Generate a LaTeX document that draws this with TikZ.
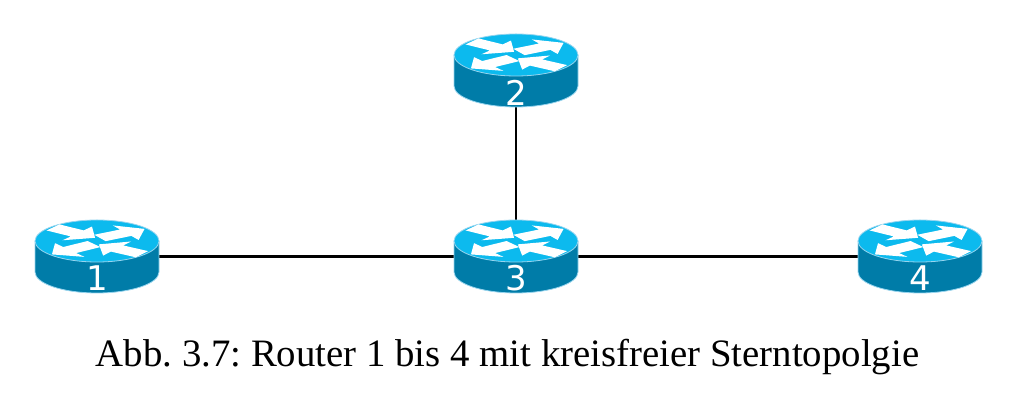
\documentclass[tikz,border=0pt]{standalone}
\usepackage{fontspec}
\setmainfont{Liberation Serif}
\newfontfamily\numfont{DejaVu Sans}
\definecolor{topcol}{RGB}{12,186,238}
\definecolor{sidecol}{RGB}{0,124,168}
\definecolor{edgecol}{RGB}{150,212,238}
\tikzset{
  routerbox/.style={minimum width=124pt, minimum height=73pt, inner sep=0pt},
  num/.style={text=white, font=\numfont\fontsize{34}{34}\selectfont, inner sep=0pt},
  link/.style={line width=2.4pt, black},
  pics/routericon/.style={code={
    \fill[sidecol] (-62,15.5) -- (-62,-15.5) arc[start angle=180,end angle=360,x radius=62,y radius=21] -- (62,15.5) -- cycle;
    \draw[edgecol, line width=0.8pt] (-62,15.5) -- (-62,-15.5) arc[start angle=180,end angle=360,x radius=62,y radius=21] -- (62,15.5);
    \fill[topcol] (0,15.5) ellipse[x radius=62, y radius=21];
    \draw[edgecol, line width=0.8pt] (0,15.5) ellipse[x radius=62, y radius=21];
    \begin{scope}[shift={(0,15.5)}, yscale=0.339]
      \foreach \sx/\sy/\ang in {-44/40/-36, 3/9/31, -3/-9/216, 45/-39/146}{
        \begin{scope}[shift={(\sx,\sy)}, rotate=\ang]
          \fill[white] (0,-11) -- (30,-11) -- (30,-25) -- (52,0) -- (30,25) -- (30,11) -- (0,11) -- cycle;
        \end{scope}
      }
    \end{scope}
  }}
}
\begin{document}
\frenchspacing
\begin{tikzpicture}[x=1pt,y=1pt]
\useasboundingbox (0,0) rectangle (1022,406);
\node[routerbox] (r1) at (97,149.5) {};
\node[routerbox] (r2) at (516,335.5) {};
\node[routerbox] (r3) at (516,149.5) {};
\node[routerbox] (r4) at (920,149.5) {};
\draw[link] (r1.east) -- (r3.west);
\draw[link] (r3.east) -- (r4.west);
\draw[link] (r2.south) -- (r3.north);
\pic at (r1.center) {routericon};
\pic at (r2.center) {routericon};
\pic at (r3.center) {routericon};
\pic at (r4.center) {routericon};
\node[num] (n1) at ([yshift=-22pt]r1.center) {1};
\node[num] (n2) at ([yshift=-22pt]r2.center) {2};
\node[num] (n3) at ([yshift=-22pt]r3.center) {3};
\node[num] (n4) at ([yshift=-22pt]r4.center) {4};
\node[anchor=base, font=\fontsize{38.8}{38.8}\selectfont, inner sep=0pt] (cap) at (507.5,39) {Abb. 3.7: Router 1 bis 4 mit kreisfreier Sterntopolgie};
\end{tikzpicture}
\end{document}
